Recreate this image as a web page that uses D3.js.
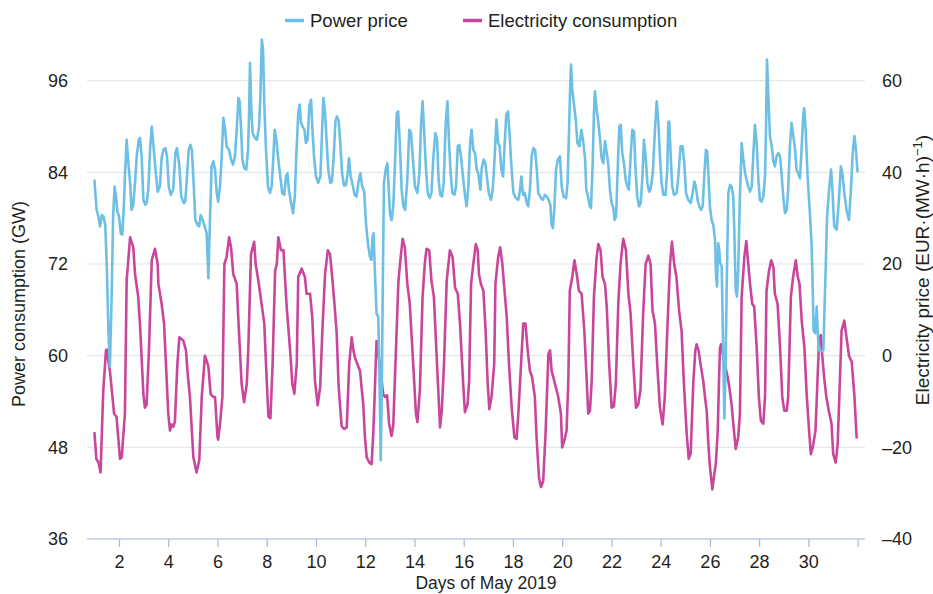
<!DOCTYPE html>
<html>
<head>
<meta charset="utf-8">
<script src="https://cdn.jsdelivr.net/npm/d3@7"></script>
<style>
  body { margin: 0; background: #fff; }
  text { font-family: "Liberation Sans", Arial, sans-serif; fill: #231f20; }
</style>
</head>
<body>
<svg id="chart" width="933" height="594"></svg>
<script>

// electricity consumption, read at the turning points (days after 1 May 00:00, GW)
var loadTime = [
  0, 0.08, 0.17, 0.25, 0.36, 0.47, 0.5, 0.63, 0.8, 0.9,
  1.04, 1.11, 1.24, 1.31, 1.45, 1.58, 1.65, 1.78, 1.85, 1.99,
  2.05, 2.12, 2.22, 2.33, 2.46, 2.57, 2.6, 2.73, 2.83,
  3.0, 3.07, 3.14, 3.21, 3.27, 3.37, 3.45, 3.61, 3.72, 3.78, 3.88,
  4.02, 4.15, 4.26, 4.36, 4.49, 4.63, 4.72, 4.83, 4.9,
  5.0, 5.03, 5.1, 5.2, 5.28, 5.37, 5.47, 5.55, 5.64, 5.78, 5.85, 5.98,
  6.08, 6.19, 6.25, 6.36, 6.49, 6.55, 6.66, 6.79, 6.9,
  7.0, 7.07, 7.15, 7.24, 7.34, 7.41, 7.47, 7.58, 7.68, 7.74, 7.81, 7.95,
  8.04, 8.12, 8.22, 8.28, 8.42, 8.55, 8.62, 8.76, 8.85, 8.96,
  9.07, 9.17, 9.26, 9.37, 9.48, 9.57, 9.66, 9.77, 9.84, 9.92,
  10.04, 10.14, 10.25, 10.35, 10.45, 10.52, 10.58, 10.68, 10.79, 10.85, 10.92, 10.99,
  11.06, 11.17, 11.26, 11.33, 11.46, 11.59, 11.73, 11.8, 11.89, 11.97,
  12.07, 12.14, 12.25, 12.35, 12.44, 12.52, 12.61, 12.71, 12.81, 12.95,
  13.06, 13.12, 13.22, 13.33, 13.42, 13.49, 13.6, 13.69, 13.79, 13.89,
  14.04, 14.11, 14.2, 14.31, 14.44, 14.55, 14.65, 14.76, 14.85, 14.98,
  15.05, 15.16, 15.22, 15.3, 15.39, 15.49, 15.57, 15.62, 15.7, 15.8, 15.89, 15.97,
  16.04, 16.13, 16.24, 16.29, 16.4, 16.48, 16.57, 16.68, 16.75, 16.84, 16.95,
  17.06, 17.15, 17.22, 17.33, 17.42, 17.51, 17.6, 17.69, 17.78, 17.89, 17.96,
  18.06, 18.14, 18.23, 18.33, 18.44, 18.51, 18.57, 18.64, 18.77, 18.84, 18.95,
  19.0, 19.09, 19.18, 19.25, 19.31, 19.41, 19.5, 19.59, 19.68, 19.79, 19.9,
  20.06, 20.13, 20.2, 20.29, 20.4, 20.47, 20.56, 20.64, 20.74, 20.81, 20.91,
  21.01, 21.1, 21.18, 21.28, 21.37, 21.48, 21.59, 21.69, 21.78, 21.89,
  22.0, 22.09, 22.18, 22.29, 22.39, 22.5, 22.59, 22.67, 22.77, 22.86, 22.97,
  23.08, 23.17, 23.27, 23.38, 23.46, 23.55, 23.64, 23.75, 23.85, 23.94,
  24.05, 24.14, 24.22, 24.33, 24.41, 24.46, 24.54, 24.62, 24.73, 24.8, 24.87, 24.93,
  25.0, 25.1, 25.18, 25.24, 25.32, 25.37, 25.41, 25.45, 25.55, 25.72, 25.77, 25.88, 25.95,
  26.05, 26.15, 26.22, 26.29, 26.4, 26.48, 26.56, 26.63, 26.72, 26.8, 26.9, 26.99,
  27.07, 27.17, 27.24, 27.3, 27.4, 27.49, 27.58, 27.64, 27.75, 27.85, 27.94,
  28.02, 28.12, 28.18, 28.29, 28.38, 28.49, 28.57, 28.64, 28.73, 28.84, 28.93,
  29.03, 29.1, 29.19, 29.29, 29.37, 29.44, 29.51, 29.56, 29.64, 29.73, 29.83, 29.94,
  30.01, 30.11, 30.19, 30.28, 30.35, 30.46, 30.55, 30.65, 30.76, 30.87, 30.96, 31.0
];
var loadValue = [
  50, 46.5, 46, 44.7, 55.4, 60.7, 60.8, 58, 52.4, 52,
  46.5, 46.7, 52.4, 69.8, 75.5, 74.2, 70.7, 67.7, 64.2, 55,
  53.2, 53.6, 61, 72.5, 74, 72, 69.4, 66.8, 64.2,
  52.4, 50.2, 51, 50.7, 51.4, 58.9, 62.4, 62, 60.7, 58, 54.6,
  46.7, 44.7, 46.3, 54.6, 60, 58.6, 55, 54.6, 54.6,
  49.3, 49, 51, 54.6, 72, 72.9, 75.5, 74.2, 70.7, 69.4, 64.6, 56.3,
  53.9, 56.3, 60.7, 73.3, 74.9, 72, 69.8, 66.8, 64.2,
  56.7, 52, 51.8, 59, 71.1, 72, 75.5, 73.8, 73.8, 70.3, 66.4, 60.7,
  56.3, 55, 59, 70.3, 71.4, 70.3, 68.1, 68.1, 65, 56.7,
  53.5, 55.9, 63.3, 70.7, 73.8, 73.3, 70.3, 66, 63, 56,
  50.8, 50.4, 50.6, 58.9, 62.4, 60.7, 59.8, 58.9, 58, 55.9, 53.7, 49.3,
  46.7, 46, 45.8, 50, 61.9, 58.9, 55, 54.6, 54.8, 51.1,
  49.5, 50.9, 60.9, 69.8, 72.9, 75.3, 74.2, 69.4, 66.8, 58.9,
  52.4, 51.3, 55.5, 67.7, 72, 74, 73.8, 69.8, 67.7, 60.7,
  50.6, 52.8, 58.9, 69.8, 73.8, 72.9, 68.9, 68.1, 64.2, 56.3,
  52.6, 53.7, 56.7, 69.4, 72, 74.6, 73.8, 70.7, 69.4, 68.5, 63.3, 56.7,
  53, 54.6, 58.9, 69.4, 72.9, 74.2, 72, 67.7, 65, 58.9, 53.2,
  49.3, 49.1, 52.4, 58.9, 64.2, 64.2, 60.7, 58, 57.2, 54.6, 49.3,
  44, 42.8, 43.6, 50.2, 60.2, 60.7, 58, 57.2, 55.5, 54.6, 52.4,
  48, 48.9, 50.2, 56.7, 68.5, 70.3, 72.5, 70.7, 68.5, 68.1, 63.3,
  52.4, 52.8, 56.7, 67.7, 72.9, 74.6, 73.8, 70.3, 69.4, 66.4, 58.9,
  53.2, 53.4, 56.3, 66.8, 72, 75.3, 73.8, 68.1, 65.5, 58.9,
  53.2, 53.6, 55.5, 65.5, 72, 73.1, 72, 65.9, 64.2, 58.9, 53.2,
  51, 54.6, 63.3, 72, 74.9, 72, 70.3, 65.9, 63.3, 56.7,
  50.2, 46.5, 47.2, 56.7, 60.7, 61.5, 60.7, 58.9, 56.7, 54.6, 52.8, 48.9,
  45.5, 42.5, 44.5, 45.8, 50.2, 56.7, 61, 61.5, 59.8, 57.2, 56.3, 53.7, 51.1,
  47.8, 49.3, 52.4, 67.7, 72.9, 75, 72, 69.4, 66.8, 66.4, 61.1, 54.6,
  51.5, 51.1, 54.6, 68.5, 71.1, 72.5, 71.6, 68.1, 66.8, 61.1, 54.6,
  52.8, 52.8, 54.6, 67.7, 70.3, 72.5, 70.3, 69.4, 64.6, 61.1, 55,
  50.2, 47.1, 48.2, 50.2, 56.7, 62.4, 62.7, 60.2, 57.2, 54.6, 52.8, 51.1,
  47.1, 46, 48.4, 56.7, 63.3, 64.6, 62.4, 60, 59.2, 54.8, 49.3, 49.5
];

// power price, read at the turning points (days after 1 May 00:00, EUR/MWh)
var priceTime = [
  0, 0.09, 0.16, 0.23, 0.3, 0.36, 0.44, 0.5, 0.57, 0.63, 0.7, 0.76, 0.82, 0.88, 0.93,
  1.0, 1.07, 1.13, 1.19, 1.24, 1.31, 1.38, 1.45, 1.51, 1.58, 1.65, 1.72, 1.8, 1.85, 1.92, 1.99,
  2.07, 2.12, 2.19, 2.26, 2.33, 2.39, 2.48, 2.57, 2.66, 2.73, 2.8, 2.88, 2.95,
  3.02, 3.1, 3.2, 3.29, 3.35, 3.44, 3.53, 3.63, 3.69, 3.76, 3.83, 3.9, 3.96,
  4.03, 4.1, 4.18, 4.25, 4.32, 4.4, 4.48, 4.56, 4.63, 4.7, 4.76, 4.83, 4.9, 4.97,
  5.03, 5.1, 5.17, 5.24, 5.31, 5.37, 5.47, 5.55, 5.63, 5.71, 5.78, 5.85, 5.9, 5.96,
  6.01, 6.09, 6.17, 6.24, 6.28, 6.32, 6.38, 6.43, 6.52, 6.6, 6.69, 6.74, 6.8, 6.85, 6.9, 6.97,
  7.05, 7.13, 7.2, 7.27, 7.32, 7.39, 7.47, 7.55, 7.63, 7.71, 7.78, 7.84, 7.9, 7.99,
  8.07, 8.14, 8.2, 8.28, 8.34, 8.39, 8.46, 8.53, 8.59, 8.66, 8.73, 8.8, 8.85, 8.92,
  9.0, 9.09, 9.18, 9.24, 9.3, 9.37, 9.43, 9.5, 9.58, 9.65, 9.72, 9.79, 9.85, 9.92, 9.98,
  10.06, 10.14, 10.22, 10.29, 10.34, 10.41, 10.49, 10.57, 10.65, 10.73, 10.8, 10.88, 10.96,
  11.03, 11.11, 11.19, 11.25, 11.3, 11.34, 11.4, 11.46, 11.53, 11.57, 11.63, 11.67, 11.71, 11.76, 11.83, 11.9, 11.95,
  12.01, 12.07, 12.14, 12.21, 12.28, 12.34, 12.41, 12.48, 12.55, 12.62, 12.71, 12.79, 12.86, 12.93,
  13.02, 13.12, 13.2, 13.27, 13.33, 13.39, 13.47, 13.54, 13.62, 13.69, 13.77, 13.85, 13.92, 13.98,
  14.05, 14.12, 14.19, 14.27, 14.34, 14.4, 14.47, 14.54, 14.62, 14.69, 14.76, 14.82, 14.89, 14.97,
  15.05, 15.12, 15.19, 15.26, 15.32, 15.39, 15.46, 15.53, 15.59, 15.68, 15.73, 15.81, 15.88, 15.95,
  16.02, 16.11, 16.18, 16.26, 16.33, 16.4, 16.46, 16.53, 16.6, 16.66, 16.73, 16.8, 16.87, 16.93,
  17.02, 17.11, 17.22, 17.29, 17.34, 17.41, 17.48, 17.56, 17.62, 17.69, 17.76, 17.83, 17.9, 17.97,
  18.03, 18.14, 18.22, 18.3, 18.38, 18.45, 18.52, 18.57, 18.62, 18.68, 18.75, 18.83, 18.91, 18.98,
  19.06, 19.16, 19.22, 19.28, 19.33, 19.36, 19.41, 19.48, 19.55, 19.62, 19.7, 19.78, 19.86, 19.93, 19.98,
  20.05, 20.12, 20.17, 20.24, 20.29, 20.33, 20.4, 20.47, 20.54, 20.6, 20.67, 20.74, 20.81, 20.87, 20.94,
  21.01, 21.08, 21.13, 21.19, 21.25, 21.32, 21.38, 21.44, 21.51, 21.58, 21.65, 21.71, 21.78, 21.85, 21.92, 21.98,
  22.05, 22.12, 22.19, 22.26, 22.32, 22.39, 22.46, 22.53, 22.59, 22.68, 22.77, 22.84, 22.91, 22.97,
  23.04, 23.11, 23.2, 23.27, 23.31, 23.35, 23.41, 23.47, 23.54, 23.65, 23.72, 23.81, 23.89, 23.96,
  24.03, 24.12, 24.22, 24.3, 24.37, 24.43, 24.5, 24.57, 24.64, 24.71, 24.77, 24.84, 24.89, 24.95,
  25.0, 25.07, 25.14, 25.21, 25.25, 25.29, 25.34, 25.38, 25.42, 25.48, 25.55, 25.59, 25.64, 25.68, 25.75, 25.82, 25.88, 25.95, 25.99,
  26.05, 26.1, 26.15, 26.22, 26.29, 26.36, 26.43, 26.49, 26.56, 26.63, 26.7, 26.76, 26.83, 26.9, 26.97,
  27.03, 27.1, 27.17, 27.24, 27.28, 27.32, 27.37, 27.44, 27.51, 27.58, 27.64, 27.71, 27.78, 27.85, 27.91, 27.98,
  28.05, 28.12, 28.18, 28.25, 28.32, 28.39, 28.46, 28.52, 28.59, 28.66, 28.73, 28.79, 28.83, 28.89, 28.97,
  29.07, 29.13, 29.17, 29.21, 29.27, 29.34, 29.38, 29.43, 29.51, 29.61, 29.65, 29.71, 29.76, 29.84, 29.92, 29.97,
  30.05, 30.15, 30.24, 30.32, 30.38, 30.46, 30.55, 30.65, 30.73, 30.8, 30.87, 30.92, 31.0
];
var priceValue = [
  38.4, 31.8, 30.4, 28.2, 30.7, 30.4, 28.6, 20.2, 5.6, -2.4, 12.9, 30.4, 36.9, 34.7, 31.5,
  30.4, 26.7, 26.4, 31.8, 39.1, 47.1, 42, 37.7, 31.8, 32.9, 37.7, 43.5, 47.1, 47.5, 43.5, 34,
  32.9, 33.3, 36.2, 44.9, 50, 46.4, 40.6, 35.8, 36.9, 43.1, 44.9, 45.3, 43.5,
  36.9, 35.1, 36.2, 44.2, 45.3, 42, 34.7, 33.3, 33.6, 39.1, 44.9, 46, 44.9,
  37.7, 29.6, 28.6, 28.2, 30.7, 29.6, 28.2, 26.7, 16.9, 30.4, 41.3, 42.4, 40.6, 35.5,
  33.6, 36.9, 43.5, 51.9, 49.3, 45.7, 44.9, 42.8, 41.7, 43.5, 49.3, 56.2, 55.5, 49.3,
  42.8, 40.9, 40.6, 44.9, 52.2, 63.9, 53, 48.6, 47.5, 47.1, 50, 56.6, 69, 66.8, 55.1, 44.9,
  36.9, 35.5, 36.9, 43.5, 49.3, 47.1, 42.8, 39.1, 35.5, 35.1, 39.1, 39.8, 36.2, 33.3,
  31.1, 34.7, 43.5, 52.9, 54.8, 50.8, 50, 49.3, 46.4, 47.1, 54.4, 55.9, 50, 43.5,
  39.1, 37.7, 39.1, 47.9, 56.2, 53, 47.1, 40.6, 37.7, 38, 43.5, 51.1, 52.2, 51.3, 47.1,
  39.8, 37.1, 37.3, 39.8, 43.1, 39.1, 37.3, 35.1, 34.7, 38, 39.8, 36.9, 35.8,
  28.9, 24.5, 21.6, 20.9, 26, 26.7, 17.3, 9.2, 8.5, -1.7, -22.8, -9, 12.9, 37.7, 40.6, 42, 36.9,
  30.7, 29.6, 32.6, 42, 52.9, 53.3, 45.7, 36.2, 32.6, 31.8, 38.4, 49.3, 48.6, 43.5,
  36.9, 35.5, 39.8, 50.8, 55.5, 49.3, 40.6, 35.5, 34.4, 35.5, 43.5, 48.6, 47.1, 38.4,
  35.1, 34.7, 37.7, 50.8, 55.5, 47.1, 39.8, 35.5, 35.1, 36.9, 45.7, 46, 43.5, 39.1,
  35.1, 32.6, 36.9, 46.4, 49.3, 44.9, 44.2, 40.6, 39.8, 36.2, 40.9, 42.8, 42, 38.7,
  35.5, 34, 36.2, 43.5, 51.5, 46.4, 45.7, 40.6, 39.1, 45.7, 52.6, 53.3, 47.9, 42,
  35.5, 34.4, 34, 36.2, 39.1, 35.1, 35.5, 33.3, 32.6, 36.2, 43.5, 45.3, 44.9, 40.6,
  35.5, 34.4, 34, 35.1, 34.7, 34, 32.9, 28.6, 27.8, 31.8, 40.6, 42.8, 43.5, 36.9,
  34.7, 34.4, 37.7, 49.3, 59.5, 63.5, 58, 54.8, 51.5, 46.4, 45.7, 49.3, 46.5, 43, 36.2,
  34.7, 32.6, 32.2, 42, 52.9, 57.7, 53.7, 50.8, 47.1, 43.1, 42, 46.8, 44.2, 42, 36.2,
  33.3, 32.2, 29.6, 30.4, 39.8, 50, 50.4, 44.2, 42, 38.4, 36.9, 36.2, 43.5, 49.3, 48.9, 40.6,
  34.7, 32.6, 33.3, 39.1, 47.1, 43.5, 37.7, 35.8, 36.2, 39.8, 49.3, 55.5, 50.8, 43.5,
  37.7, 35.1, 35.1, 40.6, 50.8, 51.1, 43.5, 36.9, 35.1, 35.5, 39.1, 45.7, 45.7, 42,
  35.5, 34, 33.3, 35.5, 38, 36.9, 34, 32.6, 31.8, 32.6, 39.1, 44.9, 44.6, 38.4,
  32.6, 29.6, 28.5, 25.3, 17.3, 15.1, 24.5, 23.1, 20.2, 19.4, -1.7, -13.7, -1.7, 14.3, 35.5, 37.3, 36.9, 34.7, 27.5,
  14.3, 12.9, 18.7, 34.7, 46.4, 42.8, 39.8, 38.4, 36.9, 35.8, 36.9, 43.5, 50.4, 46.4, 38.4,
  34, 33.6, 34.7, 39.1, 49.3, 64.6, 57.3, 47.9, 45.7, 42.4, 41.3, 43.5, 44.2, 43.5, 39.8, 34.7,
  31.1, 31.8, 36.2, 45.7, 50.8, 47.9, 44.9, 40.6, 39.8, 38.7, 45.7, 52.2, 54, 49.3, 39.1,
  30.4, 24.5, 16.5, 5.6, 4.9, 10.7, 4.9, 1.2, 0.9, 1.2, 9.2, 20.2, 30.4, 36.2, 40.6, 36.9,
  28.2, 27.5, 34, 41.3, 39.8, 35.5, 31.8, 29.6, 36.2, 44.2, 47.9, 45.7, 40
];

var dayTicks = [2, 4, 6, 8, 10, 12, 14, 16, 18, 20, 22, 24, 26, 28, 30, 32];
var loadTicks = [36, 48, 60, 72, 84, 96];
var priceTicks = [-40, -20, 0, 20, 40, 60];

var blue = '#6dc0e3';
var pink = '#c8479c';

var svg = d3.select('#chart');

var x = d3.scaleLinear().domain([1, 32]).range([94.4, 857.6]);
var yLoad = d3.scaleLinear().domain([36, 96]).range([539, 80.7]);
var yPrice = d3.scaleLinear().domain([-40, 60]).range([539, 80.7]);

// grid
svg.append('g')
  .selectAll('line')
  .data(loadTicks.slice(1))
  .enter().append('line')
  .attr('x1', 87).attr('x2', 865)
  .attr('y1', d => yLoad(d)).attr('y2', d => yLoad(d))
  .style('stroke', '#e6e6e6')
  .style('stroke-width', 1.2);

// bottom axis
svg.append('line')
  .attr('x1', 87).attr('x2', 865)
  .attr('y1', yLoad(36)).attr('y2', yLoad(36))
  .style('stroke', '#bccbe5')
  .style('stroke-width', 1.5);

var xAxis = svg.append('g')
  .attr('transform', `translate(0,${yLoad(36)})`)
  .call(d3.axisBottom(x)
    .tickValues(dayTicks)
    .tickFormat(d => d == 32 ? '' : d)
    .tickSize(8)
    .tickPadding(8));
xAxis.select('.domain').remove();
xAxis.selectAll('line').style('stroke', '#a9b9d3').style('stroke-width', 1.2);
xAxis.selectAll('text').style('font-size', '18px').style('fill', '#231f20')
  .style('font-family', '"Liberation Sans", Arial, sans-serif');

// left axis
var yAxisL = svg.append('g')
  .attr('transform', 'translate(70,0)')
  .call(d3.axisLeft(yLoad).tickValues(loadTicks).tickSize(0).tickPadding(2));
yAxisL.select('.domain').remove();
yAxisL.selectAll('text').style('font-size', '18px').style('fill', '#231f20')
  .style('font-family', '"Liberation Sans", Arial, sans-serif');

// right axis
var yAxisR = svg.append('g')
  .attr('transform', 'translate(880,0)')
  .call(d3.axisRight(yPrice).tickValues(priceTicks).tickSize(0).tickPadding(2)
    .tickFormat(d => d < 0 ? '\u2013' + Math.abs(d) : d));
yAxisR.select('.domain').remove();
yAxisR.selectAll('text').style('font-size', '18px').style('fill', '#231f20')
  .style('font-family', '"Liberation Sans", Arial, sans-serif');

// axis titles
svg.append('text')
  .attr('transform', 'translate(25,304) rotate(-90)')
  .attr('text-anchor', 'middle')
  .style('font-size', '18px')
  .text('Power consumption (GW)');

var rt = svg.append('text')
  .attr('transform', 'translate(929,270) rotate(-90)')
  .attr('text-anchor', 'middle')
  .style('font-size', '19px');
rt.append('tspan').text('Electricity price (EUR\u00b7(MW\u00b7h)');
rt.append('tspan').attr('dy', -7).style('font-size', '13px').text('\u22121');
rt.append('tspan').attr('dy', 7).text(')');

svg.append('text')
  .attr('x', 486).attr('y', 589)
  .attr('text-anchor', 'middle')
  .style('font-size', '17.5px')
  .text('Days of May 2019');

// series
var loadLine = d3.line()
  .x((d, i) => x(1 + loadTime[i]))
  .y(d => yLoad(d));

var priceLine = d3.line()
  .x((d, i) => x(1 + priceTime[i]))
  .y(d => yPrice(d));

svg.append('path')
  .datum(loadValue)
  .attr('d', loadLine)
  .style('fill', 'none')
  .style('stroke', pink)
  .style('stroke-width', 2.6)
  .style('stroke-linejoin', 'round');

svg.append('path')
  .datum(priceValue)
  .attr('d', priceLine)
  .style('fill', 'none')
  .style('stroke', blue)
  .style('stroke-width', 2.6)
  .style('stroke-linejoin', 'round');

// legend
var legend = [
  { label: 'Power price', color: blue, x: 285 },
  { label: 'Electricity consumption', color: pink, x: 463 }
];
var lg = svg.append('g');
legend.forEach(function (d) {
  lg.append('line')
    .attr('x1', d.x).attr('x2', d.x + 19)
    .attr('y1', 20.5).attr('y2', 20.5)
    .style('stroke', d.color)
    .style('stroke-width', 3.5);
  lg.append('text')
    .attr('x', d.x + 25).attr('y', 27)
    .style('font-size', '18.5px')
    .text(d.label);
});

</script>
</body>
</html>
